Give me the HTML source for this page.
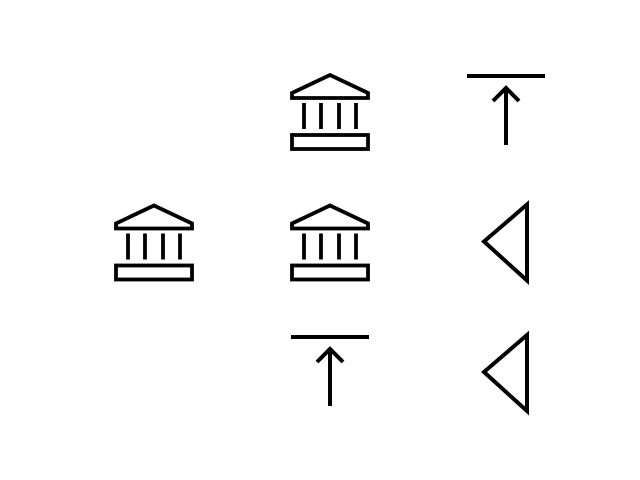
<!DOCTYPE html>
<html><head><meta charset="utf-8"><style>body{margin:0;background:#fff}svg{display:block}</style></head>
<body>
<svg width="640" height="480">
<defs>
<g id="bank" fill="none" stroke="#000" stroke-width="3.8" stroke-linejoin="miter">
<path d="M-38,-18 L0,-36 L38,-18 L38,-13 L-38,-13 Z"/>
<path d="M-26,-8 V18 M-9,-8 V18 M9,-8 V18 M26,-8 V18"/>
<rect x="-38" y="24" width="76" height="14"/>
</g>
<g id="arrowbar" fill="none" stroke="#000" stroke-width="4">
<path d="M-39,-35 H39"/>
<path d="M0,-24 V34 M-13,-10 L0,-23 L13,-10"/>
</g>
<g id="tri" fill="none" stroke="#000" stroke-width="4" stroke-linejoin="miter">
<path d="M21,-37 L21,39 L-22,0 Z"/>
</g>
</defs>
<g id="marks"></g>
</svg>
<script>
const markerCol=[1,2,0,1,2,1,2];
const markerRow=[0,0,1,1,1,2,2];
const markerType=['bank','arrowbar','bank','bank','tri','arrowbar','tri'];
const xScale=c=>154+c*176;
const yScale=r=>111+r*130.5;
const g=document.getElementById('marks');
markerType.forEach((t,i)=>{
  const u=document.createElementNS('http://www.w3.org/2000/svg','use');
  u.setAttribute('href','#'+t);
  u.setAttribute('transform','translate('+xScale(markerCol[i])+','+yScale(markerRow[i])+')');
  
  
  g.appendChild(u);
});
</script>
</body></html>
